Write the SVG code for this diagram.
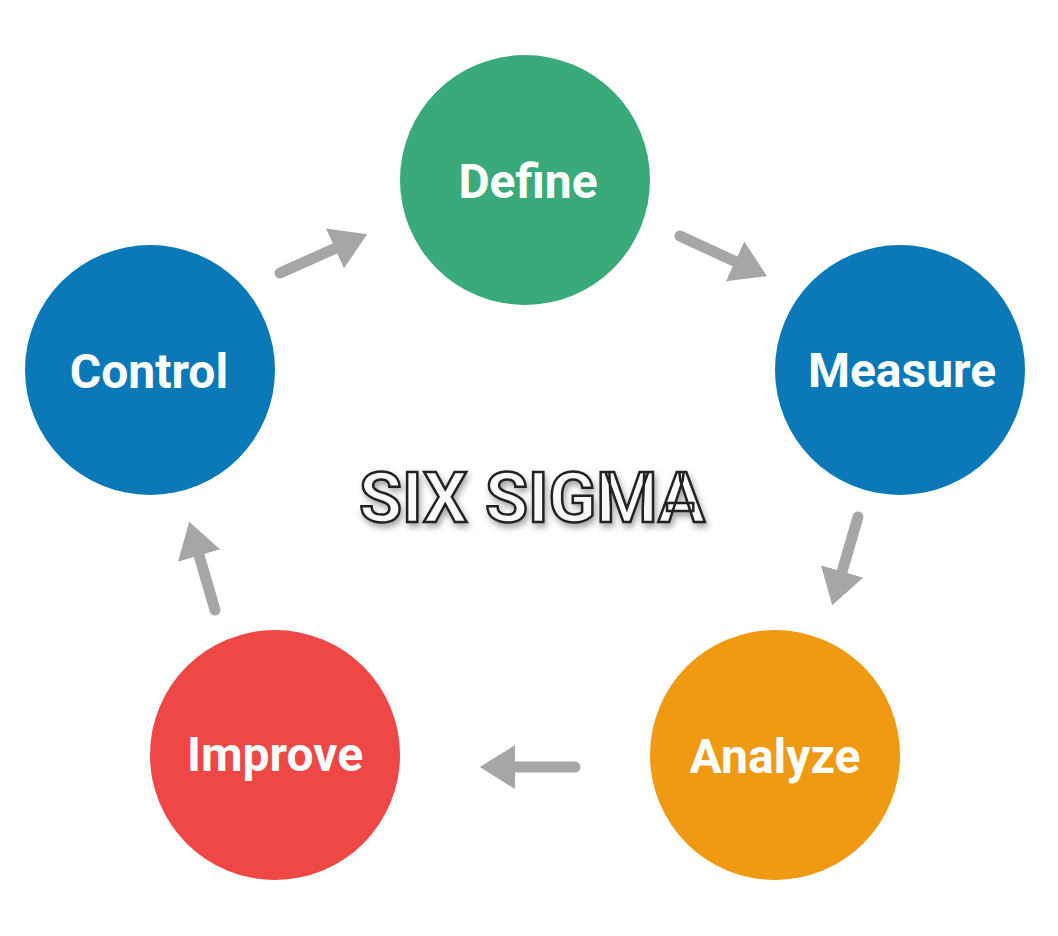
<svg xmlns="http://www.w3.org/2000/svg" width="1058" height="936" viewBox="0 0 1058 936">
<defs>
<marker id="ah" markerWidth="4" markerHeight="4" refX="1" refY="2" orient="auto" markerUnits="strokeWidth" viewBox="0 0 4 4"><path d="M0,0 L3.2,2 L0,4 Z" fill="#a6a6a6"/></marker>
<filter id="sh" x="-10%" y="-30%" width="120%" height="160%"><feDropShadow dx="2" dy="4" stdDeviation="3" flood-color="#000" flood-opacity="0.35"/></filter>
</defs>
<style>
.n{font-family:Roboto,"Liberation Sans",sans-serif;font-weight:bold;font-size:48px;fill:#fff;text-anchor:middle}
.c{stroke:#a6a6a6;stroke-width:11;stroke-linecap:round;fill:none;marker-end:url(#ah)}
</style>
<rect width="1058" height="936" fill="#fff"/>
<g id="define"><circle cx="525" cy="180" r="125" fill="#3aaa7a"/><text class="n" x="528" y="198">Define</text></g>
<g id="measure"><circle cx="900" cy="370" r="125" fill="#0b79b8"/><text class="n" x="902" y="387">Measure</text></g>
<g id="analyze"><circle cx="775" cy="755" r="125" fill="#f09a14"/><text class="n" x="775" y="773">Analyze</text></g>
<g id="improve"><circle cx="275" cy="755" r="125" fill="#ef4646"/><text class="n" x="275" y="771">Improve</text></g>
<g id="control"><circle cx="150" cy="370" r="125" fill="#0b79b8"/><text class="n" x="149" y="388">Control</text></g>
<g id="connectors">
<line class="c" x1="280" y1="273" x2="345" y2="244"/>
<line class="c" x1="680" y1="236" x2="745" y2="266"/>
<line class="c" x1="858" y1="517" x2="839" y2="582"/>
<line class="c" x1="575" y1="767" x2="504" y2="767"/>
<line class="c" x1="215" y1="610" x2="196" y2="545"/>
</g>
<g id="title"><text x="532" y="522" font-family="Roboto,'Liberation Sans',sans-serif" font-weight="bold" font-size="70" text-anchor="middle" fill="#fafafa" stroke="#222" stroke-width="2.5" filter="url(#sh)">SIX SIGMA</text></g>
</svg>
